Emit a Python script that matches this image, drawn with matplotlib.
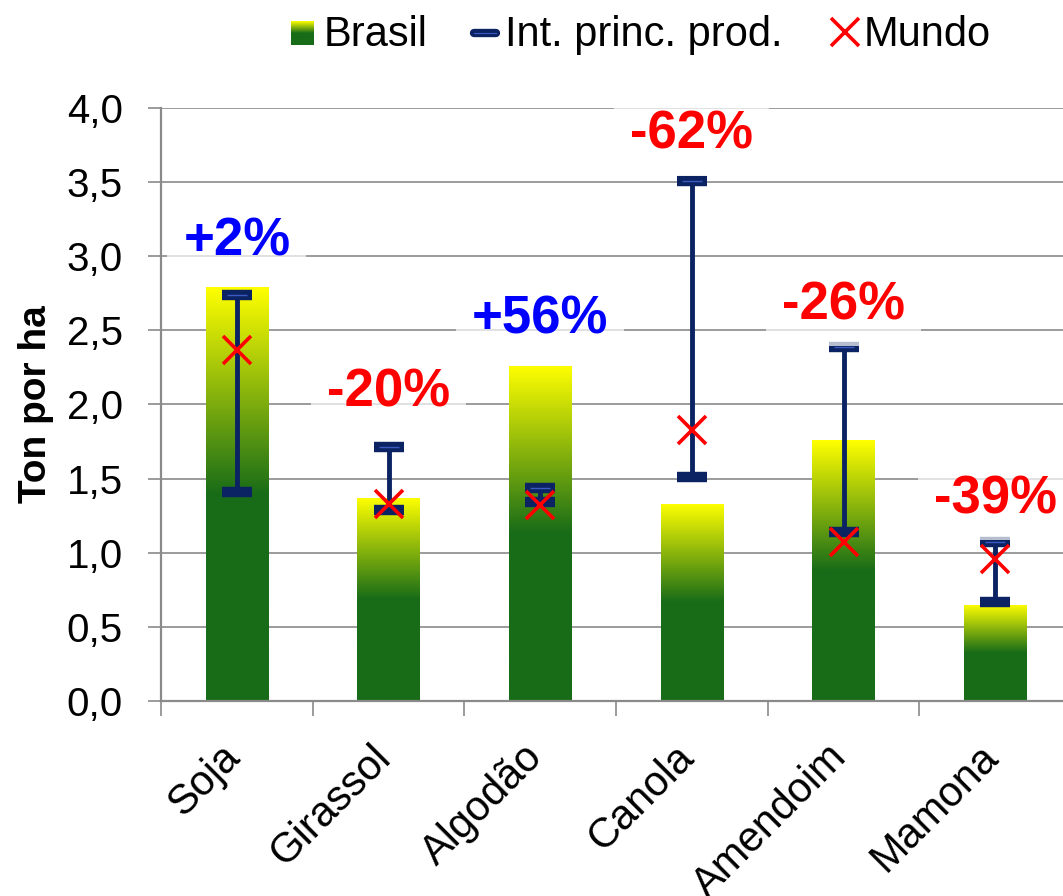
import numpy as np
import matplotlib.pyplot as plt
import matplotlib.transforms as mtransforms
from matplotlib.colors import LinearSegmentedColormap
from matplotlib.lines import Line2D

plt.rcParams['font.family'] = ['Liberation Sans', 'DejaVu Sans']

culturas = ['Soja', 'Girassol', 'Algodão', 'Canola', 'Amendoim', 'Mamona']
brasil = [2.79, 1.37, 2.26, 1.33, 1.76, 0.65]
int_min = [1.41, 1.29, 1.34, 1.51, 1.14, 0.67]
int_max = [2.74, 1.71, 1.44, 3.51, 2.39, 1.07]
mundo = [2.37, 1.33, 1.32, 1.83, 1.07, 0.96]
dif_txt = ['+2%', '-20%', '+56%', '-62%', '-26%', '-39%']
dif_y = [3.10, 2.08, 2.57, 3.82, 2.67, 1.36]
yticks = [0.0, 0.5, 1.0, 1.5, 2.0, 2.5, 3.0, 3.5, 4.0]

W, H = 1063, 896
verde = '#186c18'
amarelo = '#ffff00'
azul_esc = '#0b2362'
cinza = '#8a8a8a'

cmap = LinearSegmentedColormap.from_list('br', [(0, verde), (0.5, verde), (1, amarelo)])
grad = np.linspace(0, 1, 256).reshape(-1, 1)

fig = plt.figure(figsize=(W / 100, H / 100), dpi=100)
ax = fig.add_axes([161 / W, (H - 701) / H, 910 / W, 593 / H])

x = np.arange(len(culturas))

# barras com gradiente
bars = ax.bar(x, brasil, width=0.41, facecolor='none', edgecolor='none', zorder=2)
for b in bars:
    x0, y0 = b.get_x(), b.get_y()
    im = ax.imshow(grad, cmap=cmap, origin='lower', aspect='auto',
                   extent=[x0, x0 + b.get_width(), y0, y0 + b.get_height()],
                   zorder=2, interpolation='bilinear')
    im.set_clip_path(b)

# intervalo dos principais produtores
ax.vlines(x, int_min, int_max, color=azul_esc, lw=3.5, zorder=4)
for arr in (int_min, int_max):
    ax.plot(x, arr, ls='none', marker='_', ms=21, mew=7.5, color=azul_esc, zorder=4)
ax.plot(x, int_max, ls='none', marker='_', ms=15, mew=1, color='#3a5ac0', zorder=4)

# média mundial
ax.plot(x, mundo, ls='none', marker='x', ms=20, mew=2.6, color='#ff0000', zorder=5)

# diferenças percentuais
for xi, yi, t in zip(x, dif_y, dif_txt):
    cor = '#0000ff' if t.startswith('+') else '#ff0000'
    ax.text(xi, yi, t, ha='center', va='center', fontsize=38, fontweight='bold',
            color=cor, zorder=6,
            bbox=dict(boxstyle='square,pad=0.3', fc='white', ec='none', alpha=0.7))

ax.set_xlim(-0.5, len(culturas) - 0.5)
ax.set_ylim(0, 4.0)
ax.set_yticks(yticks)
ax.set_yticklabels([f'{v:.1f}'.replace('.', ',') for v in yticks])
ax.set_xticks(x)
ax.set_xticklabels(culturas, rotation=45, ha='right', va='top')
ax.set_xticks(np.arange(len(culturas) + 1) - 0.5, minor=True)

ax.grid(axis='y', color=cinza, lw=1.2, zorder=0)
ax.set_axisbelow(True)
for s in ('top', 'right'):
    ax.spines[s].set_visible(False)
for s in ('left', 'bottom'):
    ax.spines[s].set_color(cinza)
    ax.spines[s].set_linewidth(1.6)

ax.tick_params(axis='y', length=9.5, width=1.2, color=cinza, pad=18, labelsize=29)
ax.tick_params(axis='x', which='major', length=0, pad=26, labelsize=30)
ax.tick_params(axis='x', which='minor', length=11, width=1.2, color=cinza)
off = mtransforms.ScaledTranslation(11 / 100, 0, fig.dpi_scale_trans)
for lab in ax.get_xticklabels():
    lab.set_transform(lab.get_transform() + off)

ax.set_ylabel('Ton por ha', fontsize=28, fontweight='bold')
ax.yaxis.set_label_coords(-0.118, 0.5)

# legenda
lax = fig.add_axes([291 / W, (H - 45) / H, 23 / W, 24 / H])
lax.imshow(grad, cmap=cmap, origin='lower', aspect='auto')
lax.axis('off')
fig.text(324 / W, 1 - 46 / H, 'Brasil', fontsize=30, va='baseline')
fig.add_artist(Line2D([474 / W, 496 / W], [1 - 33 / H, 1 - 33 / H], transform=fig.transFigure,
                      color=azul_esc, lw=6, solid_capstyle='round'))
fig.add_artist(Line2D([474 / W, 496 / W], [1 - 33 / H, 1 - 33 / H], transform=fig.transFigure,
                      color='#3a5ac0', lw=0.8))
fig.text(505 / W, 1 - 46 / H, 'Int. princ. prod.', fontsize=30, va='baseline')
fig.add_artist(Line2D([845 / W], [1 - 32 / H], transform=fig.transFigure, marker='x',
                      ms=20, mew=2.6, color='#ff0000', ls='none'))
fig.text(864 / W, 1 - 46 / H, 'Mundo', fontsize=30, va='baseline')

fig.savefig('out.png', dpi=100)
